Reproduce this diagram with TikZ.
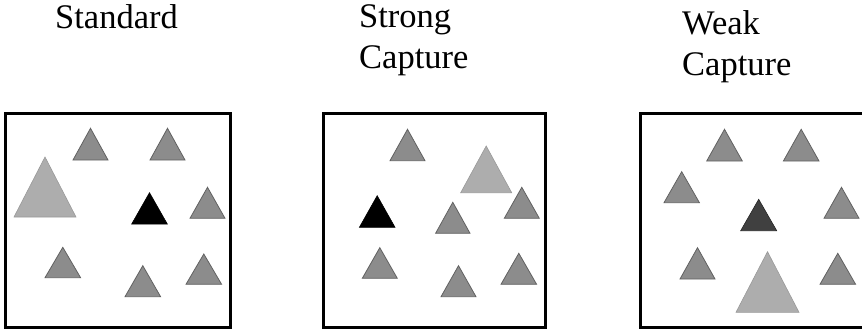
\documentclass[tikz,border=0pt]{standalone}
\usepackage{fontspec}
\setmainfont{Liberation Serif}

\tikzset{
  panel/.style={line width=3pt},
  small/.style={fill=black!45, draw=black!62, line width=0.8pt},
  big/.style={fill=black!32, draw=black!40, line width=0.6pt},
  target/.style={fill=black, draw=black, line width=0.6pt},
  dim/.style={fill=black!75, draw=black!85, line width=0.6pt},
  title/.style={font=\fontsize{34.5}{40}\selectfont, inner sep=0pt, align=left, anchor=base west}
}
% triangle: [style]{centre x}{apex y}{base y}{half width}
\newcommand{\tri}[5][small]{\filldraw[#1] (#2,#3) -- ({#2+#5},#4) -- ({#2-#5},#4) -- cycle;}

\begin{document}
\begin{tikzpicture}[x=1pt,y=-1pt]
\useasboundingbox (0,0) rectangle (862,329);
\clip (0,0) rectangle (862,329);

%--- titles (base = last line) ---
\node[title] (standard) at (55,29) {Standard};
\node[title] (strong) at (359,68) {Strong\\Capture};
\node[title] (weak) at (682,75) {Weak\\Capture};

%--- LEFT PANEL: Standard ---
\draw[panel] (5,113) rectangle (230,327.5);
\tri[big]{45}{157}{217}{31}
\tri{90.5}{128.3}{160}{17.5}
\tri{167.5}{128.3}{160}{17.5}
\tri[target]{149.5}{192.7}{224}{17.8}
\tri{207.5}{187.3}{218.3}{17.5}
\tri{62.8}{247.3}{277.7}{17.8}
\tri{142.8}{265.7}{296.7}{17.8}
\tri{203.8}{254}{284.3}{17.8}

%--- MIDDLE PANEL: Strong Capture ---
\draw[panel] (323,113) rectangle (545,327.5);
\tri{407.5}{129.3}{160.7}{17.5}
\tri[big]{486.2}{146}{192.7}{25.5}
\tri[target]{377.2}{195.7}{227.3}{17.8}
\tri{452.8}{202.3}{233.3}{17.2}
\tri{521.8}{187.3}{218.3}{17.5}
\tri{379.8}{247.7}{278.3}{17.5}
\tri{458.5}{265.7}{296.7}{17.5}
\tri{518.8}{253.3}{284.3}{17.8}

%--- RIGHT PANEL: Weak Capture (cut at the right edge) ---
\draw[panel] (640,113) rectangle (880,327.5);
\tri{724.5}{129.3}{161}{17.8}
\tri{801.2}{129.3}{161}{17.8}
\tri{681.7}{171.7}{202.7}{17.7}
\tri[dim]{758.7}{199.3}{230.7}{18}
\tri{841.5}{187.3}{218.3}{17.5}
\tri{697.5}{247.7}{279}{17.5}
\tri[big]{767.5}{251.7}{312.3}{31.5}
\tri{837.8}{253.3}{284.3}{17.8}

\end{tikzpicture}
\end{document}
